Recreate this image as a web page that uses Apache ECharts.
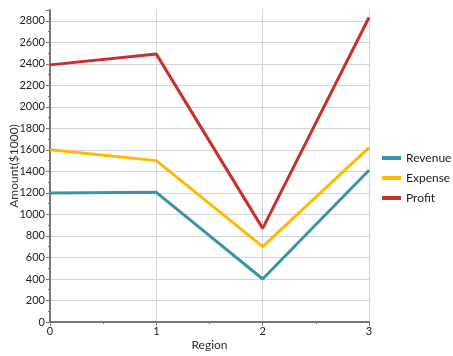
<!DOCTYPE html>
<html><head><meta charset="utf-8">
<script src="https://cdn.jsdelivr.net/npm/echarts@6/dist/echarts.min.js"></script>
<style>html,body{margin:0;padding:0;background:#fff}#c{width:453px;height:356px}</style>
</head><body><div id="c"></div>
<script>
const regions = [0, 1, 2, 3];
const revenue = [1200, 1205, 400, 1410];
const expense = [1600, 1500, 700, 1620];
const profit = [2390, 2490, 870, 2830];
const seriesNames = ['Revenue', 'Expense', 'Profit'];
const colors = ['#3A95A6', '#FFB900', '#C8302E'];

const font = 'Lato, Noto Sans, sans-serif';
const mk = (name, vals, color) => ({
  name, type: 'line', data: regions.map((r, i) => [r, vals[i]]),
  showSymbol: false, symbol: 'none', lineStyle: { width: 3, color }, itemStyle: { color },
  animation: false
});
const gridColors = [];
for (let i = 0; i < 15; i++) gridColors.push('#d4d4d4');
gridColors.push('rgba(0,0,0,0)');

const chart = echarts.init(document.getElementById('c'));
chart.setOption({
  animation: false,
  grid: { left: 50, right: 84, top: 10, bottom: 34, containLabel: false, outerBoundsMode: 'none' },
  legend: {
    orient: 'vertical', left: 382, top: 152, padding: 0, data: seriesNames,
    icon: 'rect', itemWidth: 19, itemHeight: 4, itemGap: 8,
    textStyle: { fontFamily: font, fontSize: 12, color: '#222' }
  },
  xAxis: {
    type: 'value', min: 0, max: 3, interval: 1,
    name: 'Region', nameLocation: 'middle', nameGap: 17, nameMoveOverlap: false,
    nameTextStyle: { fontFamily: font, fontSize: 12, color: '#333' },
    axisLine: { show: true, onZero: false, lineStyle: { color: '#777', width: 2 } },
    axisTick: { show: true, length: 4, lineStyle: { color: '#777' } },
    minorTick: { show: true, splitNumber: 2, length: 2, lineStyle: { color: '#777' } },
    axisLabel: { fontFamily: font, fontSize: 11, color: '#222', margin: 4, formatter: v => String(v) },
    splitLine: { show: true, lineStyle: { color: '#d4d4d4' } }
  },
  yAxis: {
    type: 'value', min: 0, max: 2900, interval: 200,
    name: 'Amount($1000)', nameLocation: 'middle', nameGap: 30, nameRotate: 90, nameMoveOverlap: false,
    nameTextStyle: { fontFamily: font, fontSize: 12, color: '#333' },
    axisLine: { show: true, onZero: false, lineStyle: { color: '#777', width: 2 } },
    axisTick: { show: true, length: 4, lineStyle: { color: '#777' } },
    minorTick: { show: true, splitNumber: 2, length: 2, lineStyle: { color: '#777' } },
    axisLabel: { fontFamily: font, fontSize: 11, color: '#222', margin: 5, showMaxLabel: false, formatter: v => String(v) },
    splitLine: { show: true, lineStyle: { color: gridColors } }
  },
  series: [
    mk(seriesNames[0], revenue, colors[0]),
    mk(seriesNames[1], expense, colors[1]),
    mk(seriesNames[2], profit, colors[2])
  ]
});
</script></body></html>
